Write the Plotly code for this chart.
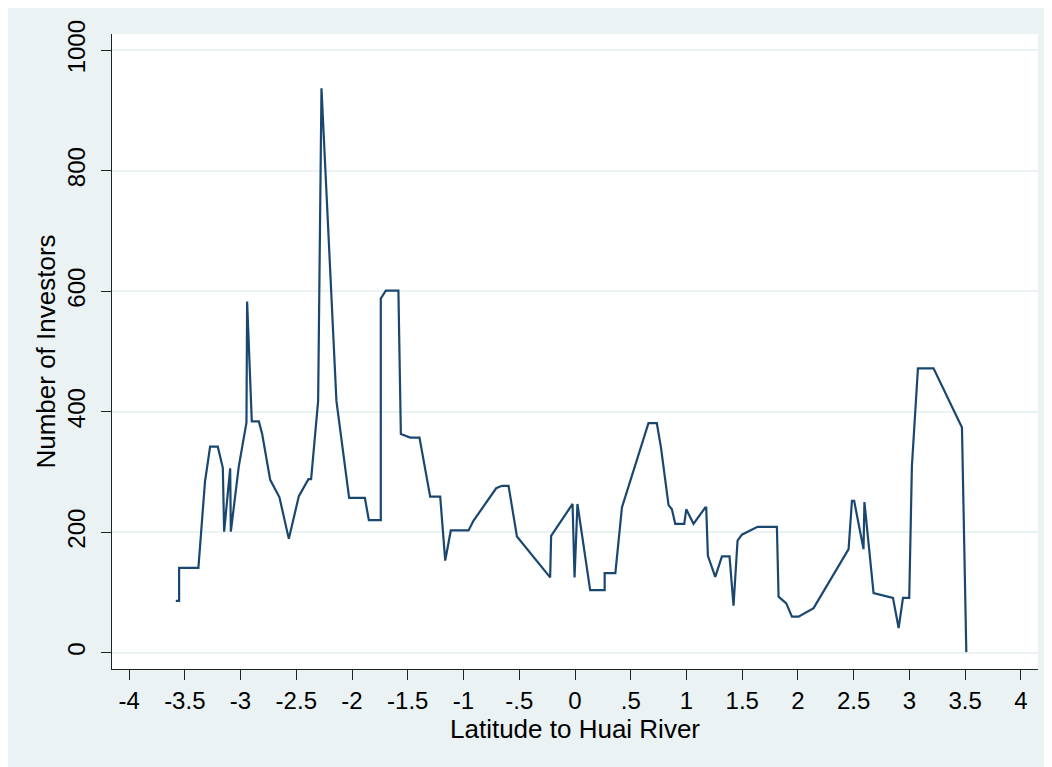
import plotly.graph_objects as go

lat = [-3.581, -3.551, -3.551, -3.378, -3.318, -3.314, -3.273, -3.204, -3.159, -3.147,
       -3.093, -3.087, -3.016, -2.947, -2.941, -2.899, -2.836, -2.806, -2.734, -2.675,
       -2.651, -2.567, -2.477, -2.391, -2.367, -2.304, -2.274, -2.140, -2.026, -1.885,
       -1.849, -1.742, -1.742, -1.697, -1.584, -1.562, -1.478, -1.395, -1.299, -1.209,
       -1.164, -1.114, -0.955, -0.911, -0.707, -0.656, -0.596, -0.521, -0.223, -0.214,
       -0.022, -0.004, 0.022, 0.136, 0.266, 0.266, 0.362, 0.421, 0.659, 0.734,
       0.771, 0.839, 0.869, 0.899, 0.980, 0.998, 1.063, 1.168, 1.177, 1.192,
       1.258, 1.318, 1.386, 1.422, 1.458, 1.497, 1.637, 1.811, 1.826, 1.895,
       1.946, 2.005, 2.140, 2.454, 2.484, 2.504, 2.588, 2.596, 2.678, 2.852,
       2.903, 2.942, 2.998, 3.022, 3.076, 3.216, 3.471, 3.510]
investors = [86, 86, 141, 141, 286, 290, 342, 342, 307, 201,
             306, 201, 309, 382, 583, 384, 384, 363, 287, 266,
             258, 189, 260, 288, 288, 418, 937, 418, 257, 257,
             220, 220, 588, 601, 601, 363, 357, 357, 259, 259,
             153, 203, 203, 219, 273, 277, 277, 193, 125, 194,
             247, 125, 247, 104, 104, 132, 132, 241, 381, 381,
             341, 245, 238, 214, 214, 238, 214, 241, 241, 161,
             126, 160, 160, 78, 186, 196, 209, 209, 93, 82,
             60, 60, 74, 172, 252, 252, 172, 250, 99, 91,
             41, 91, 91, 310, 472, 472, 374, 1]

x_ticks = [-4, -3.5, -3, -2.5, -2, -1.5, -1, -0.5, 0, 0.5, 1, 1.5, 2, 2.5, 3, 3.5, 4]
x_ticklabels = ["-4", "-3.5", "-3", "-2.5", "-2", "-1.5", "-1", "-.5", "0", ".5",
                "1", "1.5", "2", "2.5", "3", "3.5", "4"]
y_ticks = [0, 200, 400, 600, 800, 1000]
y_ticklabels = ["0", "200", "400", "600", "800", "1000"]

BG = "#EAF2F3"
LINE = "#1a476f"
FONT = "Liberation Sans, Arial, sans-serif"

fig = go.Figure()
fig.add_trace(go.Scatter(x=lat, y=investors, mode="lines",
                         line=dict(color=LINE, width=2.2), showlegend=False,
                         hoverinfo="x+y"))

# page body adds an 8px offset; figure extends to the window edges
W, H = 1052, 767
ml, mr, mt, mb = 104, 22, 24, 106

fig.update_layout(
    width=W, height=H,
    margin=dict(l=ml, r=mr, t=mt, b=mb, pad=0),
    paper_bgcolor=BG, plot_bgcolor="white",
    font=dict(family=FONT, color="black", size=24),
    xaxis=dict(range=[-4.153, 4.153], tickmode="array", tickvals=x_ticks,
               ticktext=x_ticklabels, ticks="outside", ticklen=10, tickwidth=1.3,
               tickcolor="#222", showline=True, linecolor="#222", linewidth=1.3,
               showgrid=False, zeroline=False,
               tickfont=dict(size=24, family=FONT),
               title=dict(text="Latitude to Huai River", font=dict(size=26, family=FONT),
                          standoff=0)),
    yaxis=dict(range=[-27, 1027], tickmode="array", tickvals=y_ticks,
               ticktext=y_ticklabels, ticks="outside", ticklen=10, tickwidth=1.3,
               tickcolor="#222", showline=True, linecolor="#222", linewidth=1.3,
               showgrid=True, gridcolor=BG, gridwidth=1.5, zeroline=False,
               tickangle=-90, ticklabelstandoff=6,
               tickfont=dict(size=24, family=FONT),
               title=dict(text="Number of Investors", font=dict(size=26, family=FONT),
                          standoff=0)),
)

fig.write_html("out.html")
